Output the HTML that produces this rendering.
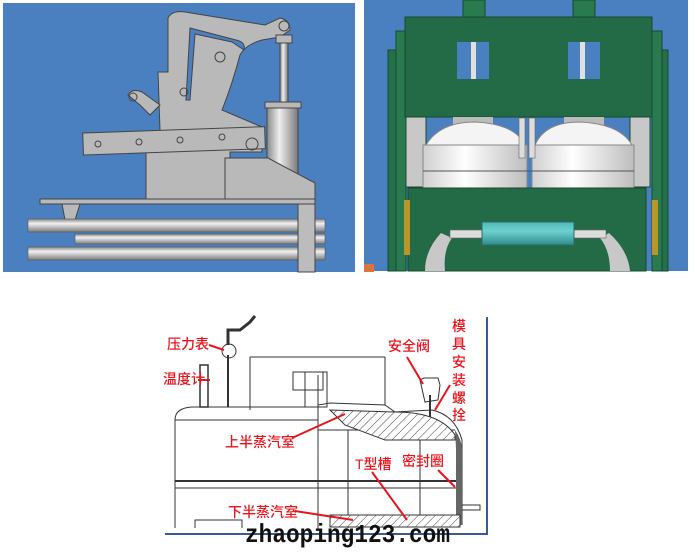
<!DOCTYPE html>
<html><head><meta charset="utf-8"><style>
html,body{margin:0;padding:0;background:#fff;}
svg{display:block;}
.lbl{font-family:"Liberation Sans","Noto Sans CJK SC",sans-serif;font-size:14px;fill:#e8141c;font-weight:500;}
</style></head><body>
<svg width="695" height="552" viewBox="0 0 695 552" xmlns="http://www.w3.org/2000/svg">
<defs>
<linearGradient id="tube" x1="0" y1="0" x2="0" y2="1"><stop offset="0" stop-color="#8a8a8a"/><stop offset=".35" stop-color="#f2f2f2"/><stop offset="1" stop-color="#7a7a7a"/></linearGradient>
<linearGradient id="cyl" x1="0" y1="0" x2="1" y2="0"><stop offset="0" stop-color="#8a8a8a"/><stop offset=".4" stop-color="#eeeeee"/><stop offset="1" stop-color="#7a7a7a"/></linearGradient>
<linearGradient id="tank" x1="0" y1="0" x2="1" y2="0"><stop offset="0" stop-color="#cfcfcf"/><stop offset=".4" stop-color="#ffffff"/><stop offset="1" stop-color="#bdbdbd"/></linearGradient>
<linearGradient id="teal" x1="0" y1="0" x2="0" y2="1"><stop offset="0" stop-color="#4fb9b9"/><stop offset=".4" stop-color="#6fd0cf"/><stop offset="1" stop-color="#2f8a8c"/></linearGradient>
<pattern id="hatch" width="6" height="6" patternUnits="userSpaceOnUse" patternTransform="rotate(45)"><rect width="6" height="6" fill="#fff"/><line x1="0" y1="0" x2="0" y2="6" stroke="#444" stroke-width="1"/></pattern>
</defs>
<!-- LEFT PANEL -->
<rect x="3" y="3" width="352" height="269" fill="#4a80c0"/>
<g fill="#b9b9b9" stroke="#444" stroke-width="1">
<path d="M168 18 Q172 10 185 12 L265 25 L280 18 Q290 20 290 30 L280 37 L262 40 Q245 45 240 55 Q232 85 222 110 L262 127 L262 152 L230 152 L230 199 L146 199 L146 152 L160 130 L158 72 L168 72 Z"/>
<path d="M190 28 L236 40 Q246 42 244 50 L232 42 L195 34 L190 100 L186 100 Z" fill="#4a80c0"/>
<rect x="83" y="130" width="182" height="22" transform="rotate(-2 170 140)"/>
<path d="M128 95 Q132 88 142 92 L160 105 L150 115 L140 105 Z"/>
<rect x="267" y="102" width="31" height="83" fill="url(#cyl)"/>
<rect x="265" y="102" width="36" height="6"/>
<rect x="280" y="40" width="8" height="62" fill="url(#cyl)"/>
<rect x="276" y="35" width="16" height="8"/>
<path d="M225 158 L268 158 L315 183 L315 199 L225 199 Z"/>
<rect x="40" y="199" width="275" height="5"/>
<path d="M62 204 L80 204 L75 220 L65 220 Z"/>
<rect x="298" y="204" width="17" height="68"/>
</g>
<g fill="none" stroke="#444">
<circle cx="284" cy="26" r="5"/><circle cx="220" cy="57" r="5"/><circle cx="184" cy="92" r="4"/><circle cx="133" cy="97" r="4"/><circle cx="252" cy="144" r="6"/>
<circle cx="98" cy="144" r="3"/><circle cx="139" cy="142" r="3"/><circle cx="180" cy="140" r="3"/><circle cx="222" cy="137" r="3"/>
</g>
<rect x="28" y="219" width="297" height="13" fill="url(#tube)" stroke="#555" stroke-width=".6"/>
<rect x="75" y="234" width="250" height="10" fill="url(#tube)" stroke="#555" stroke-width=".6"/>
<rect x="28" y="247" width="297" height="13" fill="url(#tube)" stroke="#555" stroke-width=".6"/>
<rect x="298" y="204" width="17" height="68" fill="#bcbcbc" stroke="#444"/>
<!-- RIGHT PANEL -->
<rect x="364" y="0" width="324" height="271" fill="#4a80c0"/>
<g stroke="#174a30" stroke-width="1">
<rect x="463" y="0" width="22" height="17" fill="#2a7a50"/>
<rect x="573" y="0" width="22" height="17" fill="#2a7a50"/>
<rect x="388" y="50" width="12" height="221" fill="#23704a"/>
<rect x="656" y="50" width="12" height="221" fill="#23704a"/>
<rect x="396" y="31" width="10" height="240" fill="#2a7a50"/>
<rect x="652" y="31" width="10" height="240" fill="#2a7a50"/>
<rect x="406" y="117" width="20" height="70" fill="#c8c8c8"/>
<rect x="630" y="117" width="20" height="70" fill="#c8c8c8"/>
<rect x="405" y="17" width="247" height="100" fill="#236b47"/>
</g>
<rect x="457" y="42" width="32" height="37" fill="#4a80c0"/><rect x="471" y="42" width="5" height="37" fill="#e0e0e0"/>
<rect x="568" y="42" width="32" height="37" fill="#4a80c0"/><rect x="580" y="42" width="5" height="37" fill="#e0e0e0"/>
<rect x="453" y="117" width="40" height="8" fill="#bbb"/><rect x="564" y="117" width="40" height="8" fill="#bbb"/>
<path d="M426 145 Q440 122 475 122 Q515 124 525 145 Z" fill="#f4f4f4" stroke="#888"/>
<path d="M535 145 Q545 122 580 122 Q620 124 632 145 Z" fill="#f4f4f4" stroke="#888"/>
<rect x="423" y="145" width="104" height="43" fill="url(#tank)" stroke="#888"/>
<rect x="532" y="145" width="102" height="43" fill="url(#tank)" stroke="#888"/>
<line x1="423" y1="171" x2="634" y2="171" stroke="#555"/>
<rect x="519" y="118" width="6" height="40" fill="#ddd" stroke="#666" stroke-width=".6"/><rect x="529" y="118" width="6" height="40" fill="#ddd" stroke="#666" stroke-width=".6"/>
<rect x="408" y="188" width="238" height="83" fill="#236b47" stroke="#174a30"/>
<rect x="404" y="200" width="6" height="55" fill="#b8962a"/><rect x="652" y="200" width="6" height="55" fill="#b8962a"/>
<path d="M441 233 Q425 250 425 271 L445 271 Q443 250 452 238 Z" fill="#c8c8c8"/>
<path d="M609 233 Q628 250 630 271 L610 271 Q610 250 600 238 Z" fill="#c8c8c8"/>
<rect x="450" y="230" width="32" height="8" fill="#ddd" stroke="#666" stroke-width=".6"/>
<rect x="574" y="230" width="32" height="8" fill="#ddd" stroke="#666" stroke-width=".6"/>
<rect x="482" y="222" width="92" height="23" fill="url(#teal)" stroke="#2a6a6a"/>
<rect x="364" y="264" width="10" height="8" fill="#e07040"/>
<!-- BOTTOM DRAWING -->
<g fill="none" stroke="#333" stroke-width="1">
<path d="M175 528 L175 420 Q175 408 192 407 L318 407 L318 405 L330 403 L385 405 L395 412 L432 410 Q455 415 462 440 L462 525"/>
<line x1="175" y1="420" x2="318" y2="420"/>
<line x1="318" y1="375" x2="318" y2="530"/>
<line x1="250" y1="357" x2="385" y2="357"/>
<line x1="250" y1="357" x2="250" y2="410"/>
<line x1="385" y1="357" x2="385" y2="405"/>
<rect x="293" y="372" width="30" height="18"/>
<rect x="305" y="372" width="22" height="35"/>
<rect x="200" y="365" width="8" height="42" stroke-width="1.5"/>
<line x1="228" y1="355" x2="228" y2="407" stroke-width="2"/>
<path d="M228 345 L228 330 L240 330 L250 322 L255 316" stroke-width="3"/>
<circle cx="229" cy="351" r="7"/>
<line x1="175" y1="481" x2="462" y2="481" stroke-width="2"/>
<line x1="175" y1="488" x2="462" y2="488"/>
<line x1="318" y1="430" x2="455" y2="430"/>
<line x1="348" y1="430" x2="348" y2="528"/>
<line x1="420" y1="430" x2="420" y2="525"/>
<path d="M195 528 L195 520 L242 520 L242 528"/>
<path d="M420 380 L424 378 L438 378 L440 385 L438 400 L425 402 Z"/>
<path d="M462 505 L480 505 L480 510 L462 510"/>
<line x1="430" y1="395" x2="430" y2="440" stroke-width="2"/>
</g>
<path d="M330 410 L395 412 Q440 412 455 435 L455 440 L385 440 L345 425 Z" fill="url(#hatch)" stroke="#333"/>
<path d="M455 430 Q462 440 462 450 L462 525 L456 525 L456 448 Z" fill="#666"/>
<rect x="330" y="515" width="130" height="12" fill="url(#hatch)" stroke="#333"/>
<rect x="165" y="533" width="322" height="2" fill="#3a5a90"/>
<rect x="486" y="317" width="2" height="218" fill="#3a5a90"/>
<g stroke="#e8141c" stroke-width="2" fill="none">
<line x1="209" y1="345" x2="224" y2="350"/>
<line x1="210" y1="380" x2="198" y2="380"/>
<line x1="407" y1="357" x2="423" y2="384"/>
<line x1="450" y1="385" x2="435" y2="410"/>
<line x1="292" y1="438" x2="345" y2="414"/>
<line x1="372" y1="472" x2="407" y2="520"/>
<line x1="438" y1="470" x2="455" y2="487"/>
<line x1="295" y1="511" x2="353" y2="520"/>
</g>
<text class="lbl" x="167" y="349">压力表</text>
<text class="lbl" x="163" y="384">温度计</text>
<text class="lbl" x="388" y="351">安全阀</text>
<text class="lbl" x="452" y="331">模</text><text class="lbl" x="452" y="349">具</text><text class="lbl" x="452" y="367">安</text><text class="lbl" x="452" y="385">装</text><text class="lbl" x="452" y="403">螺</text><text class="lbl" x="452" y="420">拴</text>
<text class="lbl" x="225" y="447">上半蒸汽室</text>
<text class="lbl" x="355" y="469">T型槽</text>
<text class="lbl" x="402" y="466">密封圈</text>
<text class="lbl" x="228" y="517">下半蒸汽室</text>
<text x="245" y="542" font-family="Liberation Mono, monospace" font-weight="bold" font-size="26" fill="#111" textLength="205" lengthAdjust="spacingAndGlyphs">zhaoping123.com</text>
</svg>
</body></html>
